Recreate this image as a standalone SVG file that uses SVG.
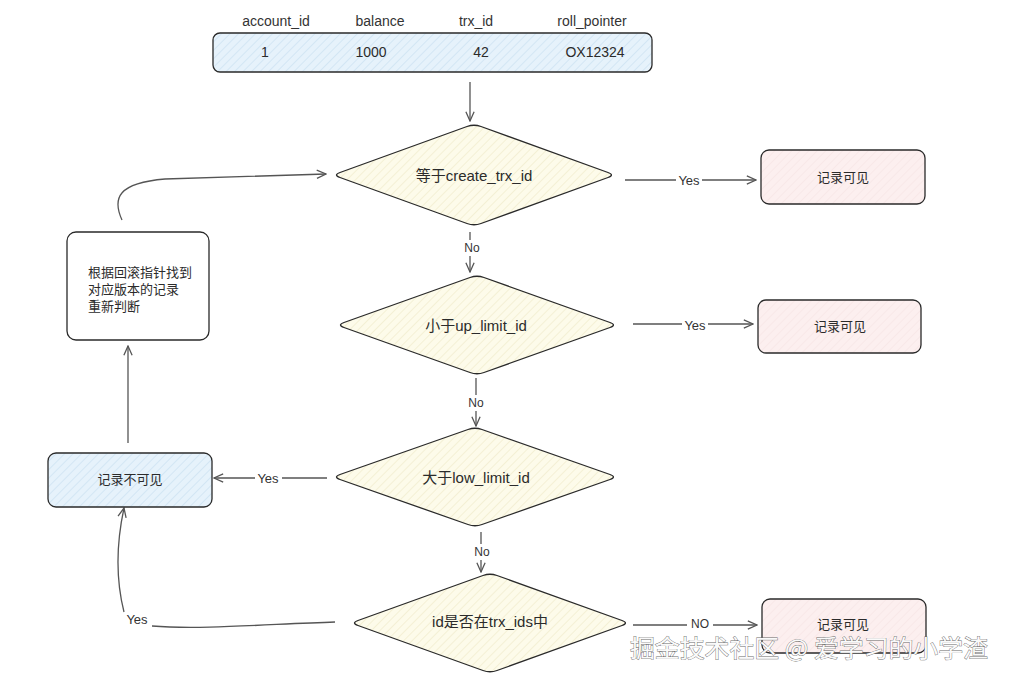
<svg xmlns="http://www.w3.org/2000/svg" width="1011" height="682" viewBox="0 0 1011 682">
<style>
  text { font-family: "Liberation Sans", "Noto Sans CJK SC", sans-serif; fill: #2b2b2b; }
  .t { font-size: 14px; text-anchor: middle; dominant-baseline: central; }
  .d { font-size: 15px; text-anchor: middle; dominant-baseline: central; }
  .b { font-size: 13px; text-anchor: middle; dominant-baseline: central; }
  .lbl { font-size: 13px; text-anchor: middle; dominant-baseline: central; fill: #333; }
  .hdr { font-size: 14px; text-anchor: middle; dominant-baseline: central; fill: #333; }
  .shape { stroke: #2a2a2a; stroke-width: 1.3; }
  .conn { fill: none; stroke: #555; stroke-width: 1.3; }
  .wm { font-size: 24px; fill: #fafafa; stroke: #6a6a6a; stroke-width: 0.8; paint-order: stroke; font-family: "Noto Sans CJK SC", sans-serif; }
</style>
<defs>
  <pattern id="hatchBlue" width="6" height="6" patternUnits="userSpaceOnUse" patternTransform="rotate(45)">
    <rect width="6" height="6" fill="#e6f2fb"/>
    <line x1="0" y1="0" x2="0" y2="6" stroke="#c6dff0" stroke-width="1.2"/>
  </pattern>
  <pattern id="hatchYellow" width="6" height="6" patternUnits="userSpaceOnUse" patternTransform="rotate(45)">
    <rect width="6" height="6" fill="#fdfbea"/>
    <line x1="0" y1="0" x2="0" y2="6" stroke="#efe9c8" stroke-width="1.2"/>
  </pattern>
  <pattern id="hatchPink" width="6" height="6" patternUnits="userSpaceOnUse" patternTransform="rotate(45)">
    <rect width="6" height="6" fill="#fcefef"/>
    <line x1="0" y1="0" x2="0" y2="6" stroke="#f5e2e2" stroke-width="1"/>
  </pattern>
  <marker id="arr" viewBox="0 0 12 12" refX="11" refY="6" markerWidth="11" markerHeight="11" markerUnits="userSpaceOnUse" orient="auto">
    <path d="M1,1.5 L11,6 L1,10.5" fill="none" stroke="#555" stroke-width="1.4"/>
  </marker>
</defs>

<rect width="1011" height="682" fill="#ffffff"/>

<g id="record-table">
  <text class="hdr" x="276" y="21">account_id</text>
  <text class="hdr" x="380" y="21">balance</text>
  <text class="hdr" x="476" y="21">trx_id</text>
  <text class="hdr" x="592" y="21">roll_pointer</text>
  <rect class="shape" x="213" y="33" width="439" height="39" rx="7" fill="url(#hatchBlue)"/>
  <text class="t" x="265" y="52">1</text>
  <text class="t" x="371" y="52">1000</text>
  <text class="t" x="481" y="52">42</text>
  <text class="t" x="595" y="52">OX12324</text>
</g>

<g id="connectors">
  <line class="conn" x1="470" y1="82" x2="470" y2="121" marker-end="url(#arr)"/>
  <line class="conn" x1="625" y1="180" x2="676" y2="180"/>
  <line class="conn" x1="702" y1="180" x2="756" y2="180" marker-end="url(#arr)"/>
  <text class="lbl" x="689" y="180">Yes</text>
  <line class="conn" x1="470" y1="232" x2="470" y2="240"/>
  <line class="conn" x1="470" y1="256" x2="470" y2="272" marker-end="url(#arr)"/>
  <text class="lbl" x="472" y="248" style="font-size:12px">No</text>
  <line class="conn" x1="633" y1="324" x2="682" y2="324"/>
  <line class="conn" x1="708" y1="324" x2="753" y2="324" marker-end="url(#arr)"/>
  <text class="lbl" x="695" y="325">Yes</text>
  <line class="conn" x1="476" y1="378" x2="476" y2="395"/>
  <line class="conn" x1="476" y1="411" x2="476" y2="426" marker-end="url(#arr)"/>
  <text class="lbl" x="476" y="403" style="font-size:12px">No</text>
  <line class="conn" x1="327" y1="478" x2="282" y2="478"/>
  <line class="conn" x1="255" y1="478" x2="214" y2="478" marker-end="url(#arr)"/>
  <text class="lbl" x="268" y="478">Yes</text>
  <line class="conn" x1="481" y1="532" x2="481" y2="544"/>
  <line class="conn" x1="481" y1="560" x2="481" y2="572" marker-end="url(#arr)"/>
  <text class="lbl" x="482" y="552" style="font-size:12px">No</text>
  <line class="conn" x1="633" y1="625" x2="687" y2="625"/>
  <line class="conn" x1="713" y1="625" x2="757" y2="625" marker-end="url(#arr)"/>
  <text class="lbl" x="700" y="624" style="font-size:12px">NO</text>
  <path class="conn" d="M335,622 C270,624 200,630 152,626" />
  <path class="conn" d="M124,612 C116,580 116,545 124,508" marker-end="url(#arr)"/>
  <text class="lbl" x="137" y="619">Yes</text>
  <line class="conn" x1="128" y1="443" x2="128" y2="346" marker-end="url(#arr)"/>
  <path class="conn" d="M122,220 C112,198 118,183 165,179 L326,174" marker-end="url(#arr)"/>
</g>

<g id="node-eq-create">
  <path class="shape" fill="url(#hatchYellow)" d="M340,172.5 L467,126.5 Q474,124 481,126.5 L608,172.5 Q615,175 608,177.5 L481,223.5 Q474,226 467,223.5 L340,177.5 Q333,175 340,172.5 Z"/>
  <text class="d" x="474" y="175">等于create_trx_id</text>
</g>

<g id="node-visible-1">
  <rect class="shape" x="761" y="150" width="164" height="54" rx="8" fill="url(#hatchPink)" stroke="#555"/>
  <text class="b" x="843" y="177">记录可见</text>
</g>

<g id="node-lt-up">
  <path class="shape" fill="url(#hatchYellow)" d="M344,322.5 L470,277.5 Q477,275 484,277.5 L610,322.5 Q617,325 610,327.5 L484,372.5 Q477,375 470,372.5 L344,327.5 Q337,325 344,322.5 Z"/>
  <text class="d" x="476" y="325">小于up_limit_id</text>
</g>

<g id="node-visible-2">
  <rect class="shape" x="758" y="300" width="163" height="53" rx="8" fill="url(#hatchPink)" stroke="#555"/>
  <text class="b" x="840" y="326">记录可见</text>
</g>

<g id="node-gt-low">
  <path class="shape" fill="url(#hatchYellow)" d="M340,474.5 L468,429.5 Q475,427 482,429.5 L610,474.5 Q617,477 610,479.5 L482,524.5 Q475,527 468,524.5 L340,479.5 Q333,477 340,474.5 Z"/>
  <text class="d" x="476" y="477">大于low_limit_id</text>
</g>

<g id="node-invisible">
  <rect class="shape" x="48" y="453" width="164" height="54" rx="8" fill="url(#hatchBlue)" stroke="#555"/>
  <text class="b" x="130" y="479">记录不可见</text>
</g>

<g id="node-rollback">
  <rect class="shape" x="67" y="232" width="142" height="108" rx="9" fill="#ffffff"/>
  <text x="88" y="272" style="font-size:13px; dominant-baseline:central">根据回滚指针找到</text>
  <text x="88" y="289" style="font-size:13px; dominant-baseline:central">对应版本的记录</text>
  <text x="88" y="306" style="font-size:13px; dominant-baseline:central">重新判断</text>
</g>

<g id="node-in-ids">
  <path class="shape" fill="url(#hatchYellow)" d="M358,620.5 L483,575.5 Q490,573 497,575.5 L622,620.5 Q629,623 622,625.5 L497,670.5 Q490,673 483,670.5 L358,625.5 Q351,623 358,620.5 Z"/>
  <text class="d" x="490" y="621">id是否在trx_ids中</text>
</g>

<g id="node-visible-3">
  <rect class="shape" x="762" y="599" width="164" height="54" rx="8" fill="url(#hatchPink)" stroke="#555"/>
  <text class="b" x="843" y="624">记录可见</text>
</g>

<text class="wm" x="630" y="657" textLength="358" lengthAdjust="spacingAndGlyphs">掘金技术社区 @ 爱学习的小学渣</text>
</svg>
